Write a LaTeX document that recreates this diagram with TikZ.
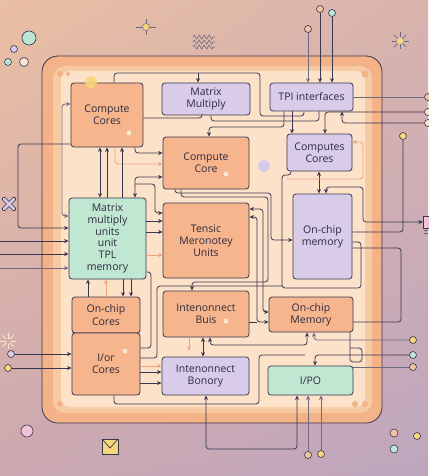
\documentclass[tikz,border=0pt]{standalone}
\usepackage{fontspec}
\setmainfont{Open Sans}
\usetikzlibrary{arrows.meta,decorations.pathmorphing,shadings}
\definecolor{ln}{HTML}{393650}
\definecolor{lg}{HTML}{6E6A80}
\definecolor{lor}{HTML}{EFA47E}
\definecolor{txt}{HTML}{2E2B40}
\definecolor{bor}{HTML}{F6B58C}
\definecolor{bli}{HTML}{D8CCE9}
\definecolor{bmi}{HTML}{BFE7D2}
\definecolor{chA}{HTML}{F3B287}
\definecolor{chB}{HTML}{F8CAA3}
\definecolor{chC}{HTML}{FCE2C9}
\definecolor{bgtl}{HTML}{EABFA3}
\definecolor{bgtr}{HTML}{D8B3AE}
\definecolor{bgbl}{HTML}{CCA8B0}
\definecolor{bgbr}{HTML}{BEA6BE}
\definecolor{yel}{HTML}{F7D67C}
\definecolor{peach}{HTML}{F6C3A0}
\definecolor{mint}{HTML}{BDE5D4}
\definecolor{lil}{HTML}{D6CBE8}
\definecolor{cream}{HTML}{FBE6D2}
\definecolor{pinkc}{HTML}{F0C4D8}
\begin{document}
\begin{tikzpicture}[x=1pt,y=-1pt,
  box/.style={draw=ln, line width=0.8pt, rounded corners=3pt, inner sep=1pt, align=center, text=txt, font=\fontsize{10.5}{12.3}\selectfont},
  obox/.style={box, fill=bor},
  lbox/.style={box, fill=bli},
  mbox/.style={box, fill=bmi},
  wire/.style={draw=ln, line width=0.8pt, rounded corners=3pt},
  arr/.style={wire, -{Stealth[length=4.5pt,width=4pt]}},
  barr/.style={wire, {Stealth[length=4.5pt,width=4pt]}-{Stealth[length=4.5pt,width=4pt]}},
  lwire/.style={wire, draw=lor},
  larr/.style={arr, draw=lor},
  gwire/.style={wire, draw=lg},
  garr/.style={gwire, -{Stealth[length=4.5pt,width=4pt]}},
  dot/.style={circle, draw=ln, line width=0.6pt, inner sep=0pt, minimum size=7pt},
  deco/.style={circle, inner sep=0pt}]
\useasboundingbox (0,0) rectangle (428,476);
\shade[upper left=bgtl, upper right=bgtr, lower left=bgbl, lower right=bgbr] (0,0) rectangle (428,476);

% chip
\draw[ln, line width=0.8pt, fill=chA, rounded corners=16pt] (42,56) rectangle (382,423);
\fill[chB, rounded corners=12pt] (53,66) rectangle (372,413);
\fill[chC, rounded corners=9pt] (61,71) rectangle (365,407);
\fill[chA] (60,74) circle (3) (68,74) circle (2) (365,74) circle (3.5) (60,404) circle (3) (355,404) circle (3) (365,404) circle (3);

% decorations
\node[deco, draw=ln, line width=0.6pt, fill=mint, minimum size=14pt] (d1) at (29,38) {};
\node[deco, draw=ln, line width=0.6pt, fill=lil, minimum size=7pt] (d2) at (14,49) {};
\node[deco, draw=ln, line width=0.6pt, fill=mint, minimum size=7pt] (d3) at (8,62) {};
\node[deco, draw=ln, line width=0.6pt, fill=cream, minimum size=9pt] (d4) at (24,62) {};
\draw[lg, line width=0.6pt] (136,27) -- (156,27) (146,19) -- (146,35);
\node[deco, fill=yel, draw=lg, line width=0.5pt, minimum size=7pt] (d5) at (146,27) {};
\foreach \yy in {37,42,47} \draw[lg, line width=0.6pt, decorate, decoration={zigzag, segment length=5pt, amplitude=2pt}] (193,\yy) -- (215,\yy);
\foreach \a in {0,45,...,315} \draw[lg, line width=0.7pt] (400,41) ++(\a:3.5) -- ++(\a:5);
\node[deco, fill=yel, minimum size=6pt] (d6) at (400,41) {};
\draw[ln, line width=4.2pt, line cap=round] (4,199) -- (14,209) (4,209) -- (14,199);
\draw[lil, line width=2.8pt, line cap=round] (4,199) -- (14,209) (4,209) -- (14,199);
\foreach \a in {0,45,...,315} \draw[cream, line width=0.8pt] (8,341) ++(\a:2.5) -- ++(\a:5.5);
\node[deco, draw=ln, line width=0.6pt, fill=pinkc, minimum size=12pt] (d7) at (27,431) {};
\draw[ln, line width=0.7pt, fill=yel] (102,439) rectangle (118,454);
\draw[ln, line width=0.7pt] (102,439) -- (110,448) -- (118,439);
\node[deco, draw=ln, line width=0.6pt, fill=peach, minimum size=8pt] (d8) at (394,433) {};
\node[deco, draw=ln, line width=0.6pt, fill=yel, minimum size=7pt] (d9) at (417,436) {};
\node[deco, draw=ln, line width=0.6pt, fill=mint, minimum size=8pt] (d10) at (394,449) {};
\node[draw=ln, line width=0.6pt, fill=pinkc, minimum width=9pt, minimum height=12pt, inner sep=0pt, anchor=west] (pk) at (423,222) {};
\draw[ln, line width=0.5pt] (424,231) -- (428,230) (424,234) -- (428,233);

% boxes
\node[obox, minimum width=72pt, minimum height=64pt] (cc) at (107,115) {Compute\\Cores};
\node[lbox, minimum width=88pt, minimum height=32pt] (mm) at (206,99) {Matrix\\Multiply};
\node[lbox, minimum width=83pt, minimum height=28pt] (tpi) at (311.5,97) {TPI interfaces};
\node[obox, minimum width=86pt, minimum height=52pt] (ccore) at (206,163) {Compute\\Core};
\node[lbox, minimum width=65pt, minimum height=37pt] (ccs) at (319.5,152.5) {Computes\\Cores};
\node[mbox, minimum width=77pt, minimum height=81pt, font=\fontsize{10.5}{11.8}\selectfont] (mmu) at (107.5,238.5) {Matrix\\multiply\\units\\unit\\TPL\\memory};
\node[obox, minimum width=86pt, minimum height=75pt] (ten) at (206,240.5) {Tensic\\Meronotey\\Units};
\node[lbox, minimum width=59pt, minimum height=85pt] (ocm) at (322.5,236.5) {On-chip\\memory};
\node[obox, minimum width=68pt, minimum height=36pt] (occ) at (106,315) {On-chip\\Cores};
\node[obox, minimum width=68pt, minimum height=62pt] (ioc) at (106,364) {I/or\\Cores};
\node[obox, minimum width=86pt, minimum height=46pt] (bus) at (206,314) {Intenonnect\\Buis};
\node[obox, minimum width=84pt, minimum height=35pt] (ocmem) at (311,314.5) {On-chip\\Memory};
\node[lbox, minimum width=87pt, minimum height=38pt] (bon) at (205.5,376) {Intenonnect\\Bonory};
\node[mbox, minimum width=85pt, minimum height=29pt] (ipo) at (310.5,380.5) {I/PO};

% small highlights
\fill[yel, opacity=0.85] (91,82) circle (6);
\fill[lil] (264,166) circle (6);
\fill[cream] (129,133) circle (2.5) (226,174) circle (2.5) (125,351) circle (2.5) (226,321) circle (2.5);

% named free ends
\coordinate (j1) at (198,73);
\coordinate (j2) at (135,184);
\coordinate (e1) at (0,241);
\coordinate (e2) at (0,254);
\coordinate (e3) at (0,268);
\coordinate (f1) at (189,351);
\coordinate (f2) at (305,355);
\coordinate (f3) at (287,179);

% top connectors
\draw[wire] (cc.north -| 114,0) -- (114,73) -- (260,73) -- (260,116) -- (304,116) -- (tpi.south -| 304,0);
\draw[arr] (j1) -- (mm.north -| j1);
\draw[wire] (cc.east |- 0,118) -- (202,118) -- (mm.south -| 202,0);
\draw[wire] (mm.south -| 211,0) -- (211,121) -- (319,121) -- (tpi.south -| 319,0);
\draw[arr] (tpi.south -| 292,0) -- (ccs.north -| 292,0);
\draw[arr] (tpi.south -| 284,0) -- (284,127) -- (209,127) -- (ccore.north -| 209,0);

\node[dot, fill=peach] (t1) at (308,29) {};
\node[dot, fill=peach] (t2) at (320,9) {};
\node[dot, fill=mint] (t3) at (332,13) {};
\draw[garr] (t1) -- (tpi.north -| t1);
\draw[arr] (t2) -- (tpi.north -| t2);
\draw[arr] (t3) -- (tpi.north -| t3);

\node[dot, fill=peach] (r1) at (428,97) {};
\node[dot, fill=cream] (r2) at (428,112) {};
\node[dot, fill=cream] (r3) at (428,123) {};
\draw[gwire] (tpi.east) -- (r1);
\draw[arr] (r2) -- (325,112) -- (ccs.north -| 325,0);
\draw[arr] (r3) -- (342,123) -- (tpi.south -| 342,0);

% right side
\node[dot, fill=yel] (y1) at (403,136) {};
\draw[wire] (y1) -- (403,232) -- (ocm.east |- 0,232);
\draw[wire] (ocm.east |- 0,248) -- (401,248) -- (401,322) -- (ocmem.east |- 0,322);
\draw[barr] (ocm.north -| 326,0) -- (326,187) -- (363,187) -- (363,222) -- (pk.west);
\draw[barr] (ccs.south -| 319,0) -- (ocm.north -| 319,0);
\draw[lwire, {Stealth[length=4.5pt,width=4pt]}-] (ccs.east |- 0,142) -- (363,142) -- (363,179) -- (f3);
\draw[wire] (ccs.south -| 291,0) -- (291,175) -- (282,175) -- (282,288) -- (361,288) -- (361,242) -- (ocm.east |- 0,242);

% compute core outputs
\draw[arr] (ccore.south -| 175,0) -- (175,193) -- (271,193) -- (271,240) -- (ocm.west |- 0,240);
\draw[arr] (ccore.south -| 181,0) -- (181,197) -- (268,197) -- (268,282) -- (192,282) -- (bus.north -| 192,0);
\draw[barr] (ten.east |- 0,209) -- (263,209) -- (263,312) -- (ocmem.west |- 0,312);
\draw[barr] (ten.east |- 0,217) -- (257,217) -- (257,322) -- (ocmem.west |- 0,322);
\draw[wire] (bus.east |- 0,322) -- (257,322);
\draw[wire] (ioc.east |- 0,358) -- (157,358) -- (157,286) -- (282,286);
\draw[wire] (mmu.east |- 0,272) -- (151,272) -- (151,348) -- (ioc.east |- 0,348);

% mmu / tensic
\draw[arr] (mmu.east |- 0,221) -- (ten.west |- 0,221);
\draw[arr] (mmu.east |- 0,232) -- (ten.west |- 0,232);
\draw[larr] (mmu.east |- 0,255) -- (ten.west |- 0,255);
\draw[arr] (j2) -- (155,184) -- (155,213) -- (ten.west |- 0,213);
\draw[barr] (mmu.north -| 135,0) -- (135,177) -- (ccore.west |- 0,177);
\draw[arr] (cc.south -| 135,0) -- (135,153) -- (ccore.west |- 0,153);
\draw[larr] (cc.south -| 115,0) -- (115,164) -- (ccore.west |- 0,164);

% left
\draw[gwire, {Stealth[length=4.5pt,width=4pt]}-{Stealth[length=4.5pt,width=4pt]}] (cc.west |- 0,104) -- (62,104) -- (62,216) -- (mmu.west |- 0,216);
\draw[arr] (cc.west |- 0,144) -- (18,144) -- (18,228) -- (mmu.west |- 0,228);
\draw[arr] (e1) -- (mmu.west |- e1);
\draw[arr] (e2) -- (mmu.west |- e2);
\draw[garr] (e3) -- (mmu.west |- e3);

% cc / mmu / occ verticals
\draw[barr] (cc.south -| 100,0) -- (mmu.north -| 100,0);
\draw[arr] (mmu.north -| 107,0) -- (cc.south -| 107,0);
\draw[arr] (mmu.north -| 122,0) -- (cc.south -| 122,0);
\draw[arr] (occ.north -| 88,0) -- (mmu.south -| 88,0);
\draw[larr] (occ.north -| 106,0) -- (mmu.south -| 106,0);
\draw[arr] (mmu.south -| 123,0) -- (occ.north -| 123,0);
\draw[arr] (mmu.south -| 131,0) -- (occ.north -| 131,0);

% bottom
\draw[larr] (ioc.east |- 0,366) -- (bon.west |- 0,366);
\draw[arr] (ioc.east |- 0,372) -- (bon.west |- 0,372);
\draw[arr] (ioc.east |- 0,383) -- (bon.west |- 0,383);
\draw[barr] (bus.south -| 203,0) -- (bon.north -| 203,0);
\draw[barr] (bus.south -| 210,0) -- (210,345) -- (307,345) -- (ocmem.south -| 307,0);
\draw[larr] (bus.south -| 189,0) -- (f1);
\draw[barr] (bon.south -| 206,0) -- (206,449) -- (297,449) -- (ipo.south -| 297,0);
\draw[wire] (ioc.south -| 114,0) -- (114,404) -- (259,404) -- (259,355) -- (f2);

\node[dot, fill=yel] (rc1) at (413,340) {};
\node[dot, fill=mint] (rc2) at (413,355) {};
\node[dot, fill=peach] (rc3) at (413,367) {};
\draw[garr] (rc1) -- (314,340) -- (ocmem.south -| 314,0);
\draw[arr] (rc2) -- (315,355) -- (ipo.north -| 315,0);
\draw[gwire] (rc3) -- (ipo.east |- rc3);
\draw[wire] (ocmem.south -| 350,0) -- (350,362) -- (362,362) -- (362,348) -- (350,348);

\node[dot, fill=peach] (b1) at (308,455) {};
\node[dot, fill=yel] (b2) at (321,454) {};
\draw[garr] (b1) -- (ipo.south -| b1);
\draw[garr] (b2) -- (ipo.south -| b2);

\node[dot, fill=lil] (lc1) at (11,354) {};
\node[dot, fill=yel] (lc2) at (8,368) {};
\draw[arr] (lc1) -- (ioc.west |- lc1);
\draw[arr] (lc2) -- (ioc.west |- lc2);
\end{tikzpicture}
\end{document}
